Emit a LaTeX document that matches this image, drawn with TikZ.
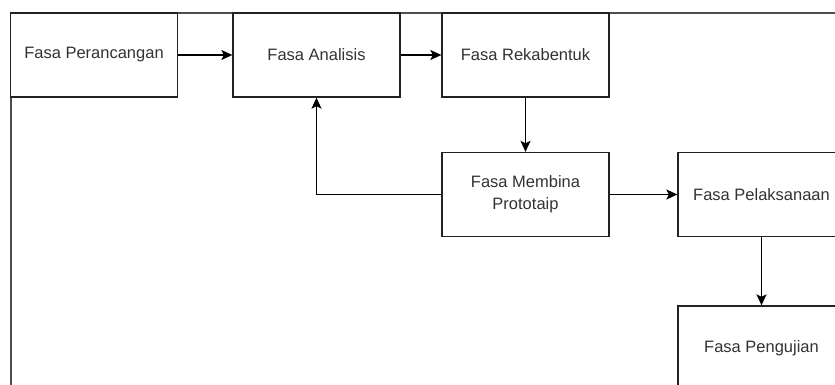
\documentclass[tikz,border=0pt]{standalone}
\usepackage{fontspec}
\setmainfont{Liberation Sans}
\usetikzlibrary{arrows.meta}
\definecolor{txt}{HTML}{333333}
\definecolor{ln}{HTML}{222222}
\tikzset{
  phase/.style={draw=ln, line width=1.3pt, fill=white, minimum width=167pt, minimum height=84pt,
    inner sep=0pt, text=txt, align=center, font=\fontsize{16.5}{22}\selectfont},
  conn/.style={draw=black, line width=1.3pt, -{Stealth[length=11pt,width=10pt,inset=2.5pt]}},
  frame/.style={draw=ln!80, line width=1.3pt}
}
\begin{document}
\begin{tikzpicture}[x=1pt,y=-1pt]
\useasboundingbox (0,0) rectangle (835,385);
\clip (0,0) rectangle (835,385);
\draw[frame] (11,385) coordinate (fl) -- (11,13) coordinate (fc) -- (835,13) coordinate (fr);
\node[phase] (per) at (94,55) {Fasa Perancangan};
\node[phase] (ana) at (316.5,55) {Fasa Analisis};
\node[phase] (rek) at (525.5,55) {Fasa Rekabentuk};
\node[phase] (mem) at (525.5,194.5) {Fasa Membina\\Prototaip};
\node[phase] (pel) at (761.5,194.5) {Fasa Pelaksanaan};
\node[phase] (pen) at (761.5,348) {Fasa Pengujian};
\draw[conn] (per.east) -- (ana.west);
\draw[conn] (ana.east) -- (rek.west);
\draw[conn] (rek.south) -- (mem.north);
\draw[conn] (mem.west) -| (ana.south);
\draw[conn] (mem.east) -- (pel.west);
\draw[conn] (pel.south) -- (pen.north);
\end{tikzpicture}
\end{document}
